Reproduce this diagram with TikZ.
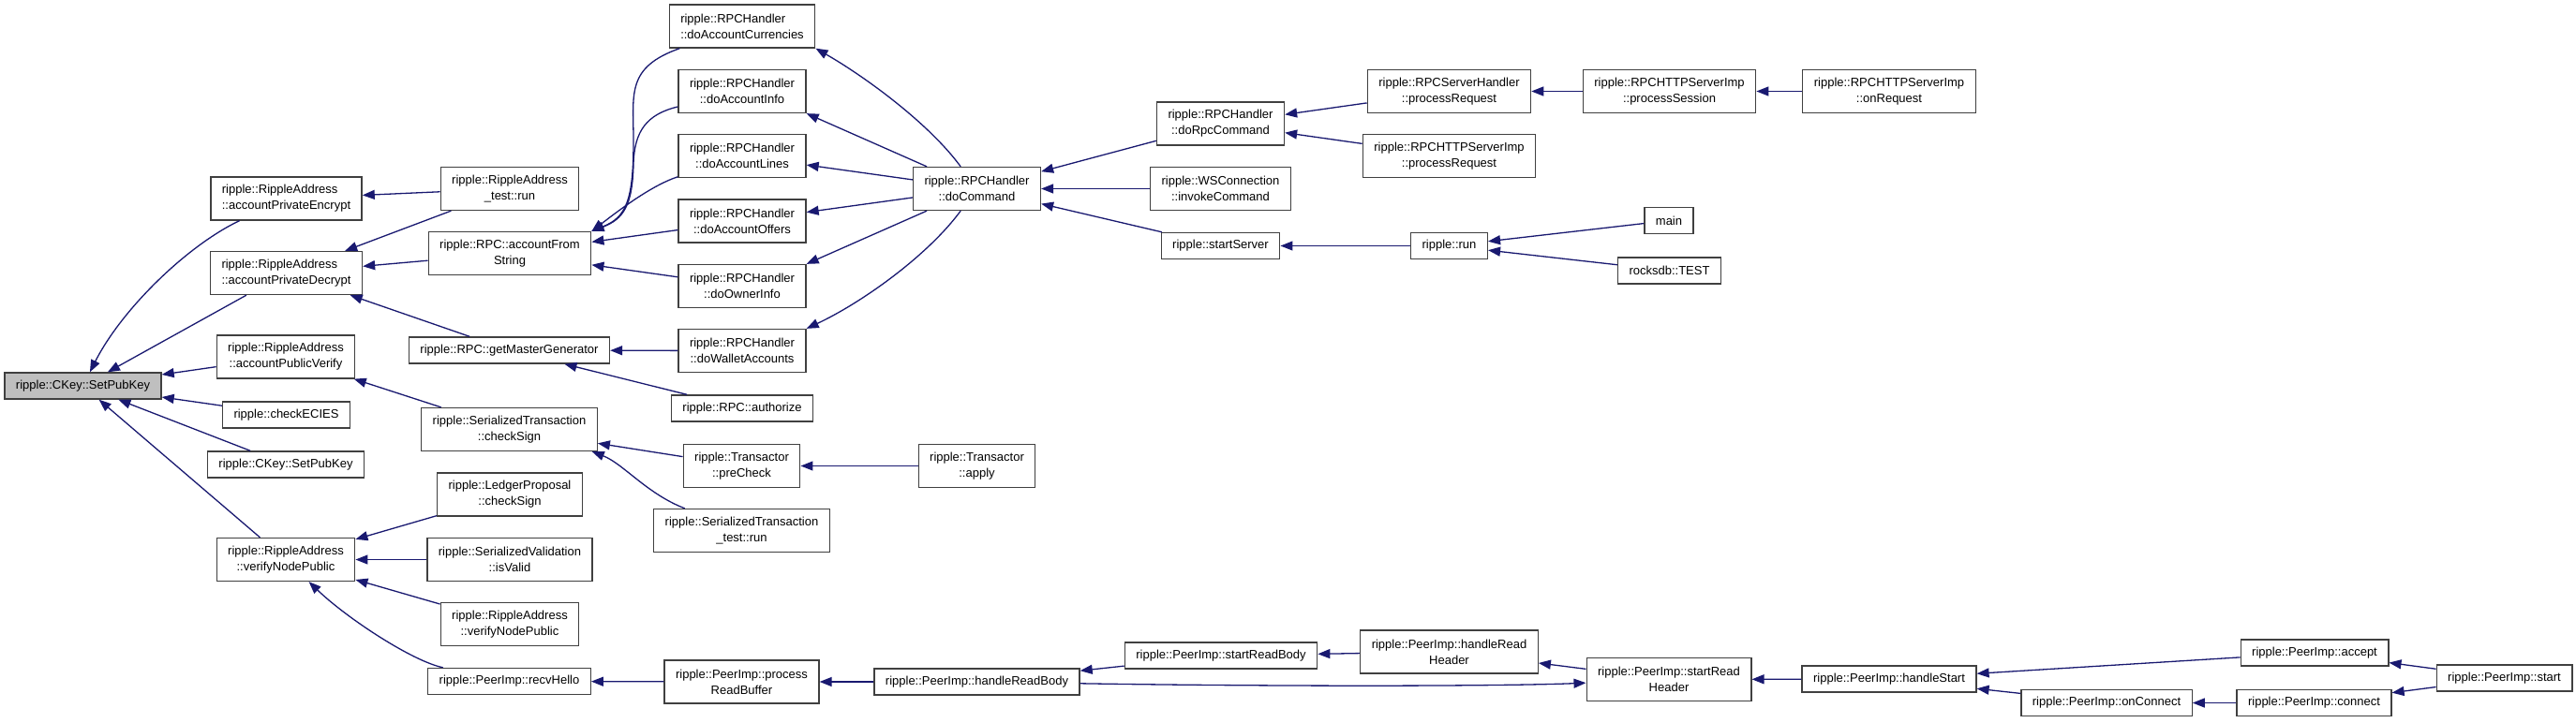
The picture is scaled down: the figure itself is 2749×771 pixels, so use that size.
\documentclass[tikz,border=0pt]{standalone}
\usepackage{fontspec}
\setmainfont{Liberation Sans}
\usetikzlibrary{arrows.meta}
\definecolor{callblue}{HTML}{191970}
\tikzset{
  callnode/.style={
    draw=black!75,
    line width=1.3pt,
    fill=white,
    align=center,
    minimum height=28pt,
    inner xsep=12pt,
    inner ysep=8pt,
    font=\fontsize{13}{17}\selectfont
  },
  twoline/.style={
    minimum height=46pt
  },
  rootnode/.style={
    callnode,
    fill=black!25
  },
  callarrow/.style={
    -{Triangle[length=13pt,width=10pt]},
    line width=1.3pt,
    draw=callblue
  }
}
\begin{document}
\begin{tikzpicture}[x=1pt,y=1pt]
    \useasboundingbox (0,0) rectangle (2749,-771);

    \node[rootnode] (setpub) at (88.5,-412) {ripple::CKey::SetPubKey};

    \node[callnode, twoline, align=left] (encrypt) at (305.5,-212) {ripple::RippleAddress\\::accountPrivateEncrypt};
    \node[callnode, twoline, align=left] (decrypt) at (305.5,-291.5) {ripple::RippleAddress\\::accountPrivateDecrypt};
    \node[callnode, twoline] (pubverify) at (305,-381) {ripple::RippleAddress\\::accountPublicVerify};
    \node[callnode] (checkecies) at (305.5,-443) {ripple::checkECIES};
    \node[callnode] (setpubtwo) at (305,-496) {ripple::CKey::SetPubKey};
    \node[callnode, twoline] (verifynode) at (305,-597.5) {ripple::RippleAddress\\::verifyNodePublic};

    \node[callnode, twoline] (addrtest) at (544,-201.5) {ripple::RippleAddress\\\_test::run};
    \node[callnode, twoline] (fromstring) at (544,-270.5) {ripple::RPC::accountFrom\\String};
    \node[callnode] (mastergen) at (543.5,-374) {ripple::RPC::getMasterGenerator};
    \node[callnode, twoline] (txchecksign) at (543.5,-458.5) {ripple::SerializedTransaction\\::checkSign};
    \node[callnode, twoline] (propchecksign) at (544,-528) {ripple::LedgerProposal\\::checkSign};
    \node[callnode, twoline] (valisvalid) at (544,-597.5) {ripple::SerializedValidation\\::isValid};
    \node[callnode, twoline] (addrverify) at (544,-666.5) {ripple::RippleAddress\\::verifyNodePublic};
    \node[callnode] (recvhello) at (543.5,-727.5) {ripple::PeerImp::recvHello};

    \node[callnode, twoline, align=left] (currencies) at (792,-28) {ripple::RPCHandler\\::doAccountCurrencies};
    \node[callnode, twoline] (accinfo) at (792,-97.5) {ripple::RPCHandler\\::doAccountInfo};
    \node[callnode, twoline] (acclines) at (792,-166.5) {ripple::RPCHandler\\::doAccountLines};
    \node[callnode, twoline] (accoffers) at (792,-236) {ripple::RPCHandler\\::doAccountOffers};
    \node[callnode, twoline] (ownerinfo) at (792,-305.5) {ripple::RPCHandler\\::doOwnerInfo};
    \node[callnode, twoline] (walletacc) at (792,-374.5) {ripple::RPCHandler\\::doWalletAccounts};
    \node[callnode] (authorize) at (792,-436) {ripple::RPC::authorize};
    \node[callnode, twoline] (precheck) at (791.5,-497.5) {ripple::Transactor\\::preCheck};
    \node[callnode, twoline] (txtest) at (791.5,-566.5) {ripple::SerializedTransaction\\\_test::run};
    \node[callnode, twoline] (readbuffer) at (791.5,-728) {ripple::PeerImp::process\\ReadBuffer};

    \node[callnode, twoline] (docommand) at (1042.5,-201.5) {ripple::RPCHandler\\::doCommand};
    \node[callnode, twoline] (apply) at (1042.5,-497.5) {ripple::Transactor\\::apply};
    \node[callnode] (readbody) at (1042.5,-728) {ripple::PeerImp::handleReadBody};

    \node[callnode, twoline] (rpccommand) at (1302.5,-132) {ripple::RPCHandler\\::doRpcCommand};
    \node[callnode, twoline] (invoke) at (1302.5,-201.5) {ripple::WSConnection\\::invokeCommand};
    \node[callnode] (startserver) at (1302.5,-262.5) {ripple::startServer};
    \node[callnode] (startbody) at (1303,-700) {ripple::PeerImp::startReadBody};

    \node[callnode, twoline] (handlerreq) at (1546.5,-97.5) {ripple::RPCServerHandler\\::processRequest};
    \node[callnode, twoline] (httpreq) at (1546.5,-166.5) {ripple::RPCHTTPServerImp\\::processRequest};
    \node[callnode] (run) at (1546.5,-262.5) {ripple::run};
    \node[callnode, twoline] (readheader) at (1546.5,-696) {ripple::PeerImp::handleRead\\Header};

    \node[callnode, twoline] (session) at (1781.5,-97.5) {ripple::RPCHTTPServerImp\\::processSession};
    \node[callnode] (main) at (1781,-235.5) {main};
    \node[callnode] (rocksdb) at (1781.5,-289) {rocksdb::TEST};
    \node[callnode, twoline] (startheader) at (1781,-725.5) {ripple::PeerImp::startRead\\Header};

    \node[callnode, twoline] (onrequest) at (2016,-97.5) {ripple::RPCHTTPServerImp\\::onRequest};
    \node[callnode] (handlestart) at (2016,-725) {ripple::PeerImp::handleStart};
    \node[callnode] (onconnect) at (2248,-750.5) {ripple::PeerImp::onConnect};
    \node[callnode] (accept) at (2470,-697) {ripple::PeerImp::accept};
    \node[callnode] (connect) at (2469.5,-750.5) {ripple::PeerImp::connect};
    \node[callnode] (start) at (2672.5,-724) {ripple::PeerImp::start};

    \draw[callarrow] (encrypt) .. controls (200,-262) and (130,-330) .. (setpub);
    \draw[callarrow] (decrypt) -- (setpub);
    \draw[callarrow] (pubverify) -- (setpub);
    \draw[callarrow] (checkecies) -- (setpub);
    \draw[callarrow] (setpubtwo) -- (setpub);
    \draw[callarrow] (verifynode) -- (setpub);

    \draw[callarrow] (addrtest) -- (encrypt);
    \draw[callarrow] (addrtest) -- (decrypt);
    \draw[callarrow] (fromstring) -- (decrypt);
    \draw[callarrow] (mastergen) -- (decrypt);
    \draw[callarrow] (txchecksign) -- (pubverify);
    \draw[callarrow] (propchecksign) -- (verifynode);
    \draw[callarrow] (valisvalid) -- (verifynode);
    \draw[callarrow] (addrverify) -- (verifynode);
    \draw[callarrow] (recvhello) .. controls (440,-706) and (370,-660) .. (verifynode);

    \draw[callarrow] (currencies) .. controls (668,-72) and (676,-100) .. (676,-150)
      .. controls (676,-215) and (668,-232) .. (fromstring.north east);
    \draw[callarrow] (accinfo) .. controls (690,-122) and (677,-140) .. (676,-175)
      .. controls (675,-220) and (665,-234) .. (fromstring.north east);
    \draw[callarrow] (acclines) .. controls (695,-198) and (660,-225) .. (fromstring.north east);
    \draw[callarrow] (accoffers) -- (fromstring);
    \draw[callarrow] (ownerinfo) -- (fromstring);
    \draw[callarrow] (walletacc) -- (mastergen);
    \draw[callarrow] (authorize) -- (mastergen);
    \draw[callarrow] (precheck) -- (txchecksign);
    \draw[callarrow] (txtest) .. controls (690,-527) and (665,-495) .. (txchecksign.-15);
    \draw[callarrow] (apply) -- (precheck);

    \draw[callarrow] (docommand) .. controls (990,-130) and (920,-80) .. (currencies.south east);
    \draw[callarrow] (docommand) -- (accinfo.south east);
    \draw[callarrow] (docommand) -- (acclines);
    \draw[callarrow] (docommand) -- (accoffers);
    \draw[callarrow] (docommand) -- (ownerinfo.north east);
    \draw[callarrow] (docommand) .. controls (990,-273) and (920,-323) .. (walletacc.north east);

    \draw[callarrow] (rpccommand) -- (docommand);
    \draw[callarrow] (invoke) -- (docommand);
    \draw[callarrow] (startserver) -- (docommand);
    \draw[callarrow] (handlerreq) -- (rpccommand);
    \draw[callarrow] (httpreq) -- (rpccommand);
    \draw[callarrow] (session) -- (handlerreq);
    \draw[callarrow] (onrequest) -- (session);
    \draw[callarrow] (run) -- (startserver);
    \draw[callarrow] (main) -- (run);
    \draw[callarrow] (rocksdb) -- (run);

    \draw[callarrow] (readbuffer) -- (recvhello);
    \draw[callarrow] (readbody) -- (readbuffer);
    \draw[callarrow] (startbody) -- (readbody);
    \draw[callarrow] (readbody) .. controls (1350,-733) and (1600,-733) .. (startheader);
    \draw[callarrow] (readheader) -- (startbody);
    \draw[callarrow] (startheader) -- (readheader);
    \draw[callarrow] (handlestart) -- (startheader);
    \draw[callarrow] (accept) -- (handlestart);
    \draw[callarrow] (onconnect) -- (handlestart);
    \draw[callarrow] (connect) -- (onconnect);
    \draw[callarrow] (start) -- (accept);
    \draw[callarrow] (start) -- (connect);
\end{tikzpicture}
\end{document}
